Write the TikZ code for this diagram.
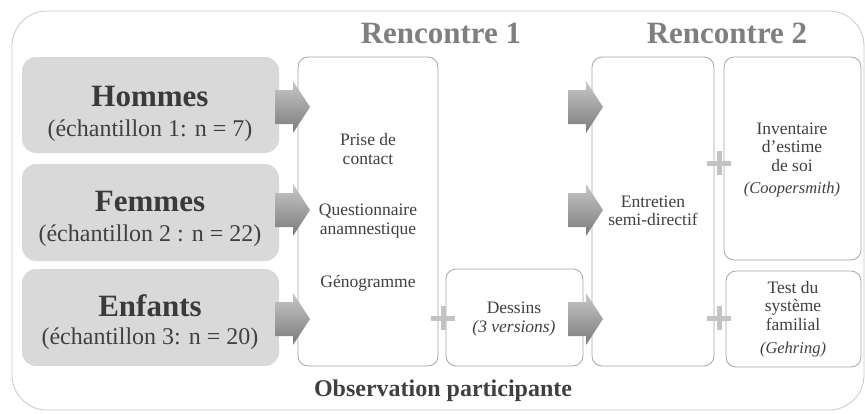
\documentclass[tikz,border=0pt]{standalone}
\usepackage{fontspec}
\setmainfont{Liberation Serif}
\definecolor{framec}{HTML}{C8C8C8}
\definecolor{boxc}{HTML}{A6A6A6}
\definecolor{greyfill}{HTML}{D9D9D9}
\definecolor{txt}{HTML}{404040}
\definecolor{titlec}{HTML}{3A3A3A}
\definecolor{headc}{HTML}{7F7F7F}
\definecolor{plusc}{HTML}{C3C3C3}
\definecolor{arrtop}{HTML}{C8C8C8}
\definecolor{arrbot}{HTML}{7A7A7A}
\newcommand{\myblockarrow}[4]{% name, x0, center y, tip x
  \path[shade, top color=arrtop, bottom color=arrbot]
    (#2,#3-17) -- (#4-17,#3-17) -- (#4-17,#3-26) -- (#4,#3) coordinate (#1)
    -- (#4-17,#3+26) -- (#4-17,#3+17) -- (#2,#3+17) -- cycle;}
\newcommand{\myplus}[3]{% name, x, y
  \coordinate (#1) at (#2,#3);
  \draw[plusc, line width=5pt] ([xshift=-12pt]#1) -- ([xshift=12pt]#1);
  \draw[plusc, line width=5pt] ([yshift=-12pt]#1) -- ([yshift=12pt]#1);}
\tikzset{
  grpbox/.style={fill=greyfill, draw=none, rounded corners=14pt},
  wbox/.style={fill=white, draw=boxc, line width=0.8pt, rounded corners=10pt},
  bigtitle/.style={text=titlec, font=\fontsize{31}{34}\selectfont\bfseries},
  subtitle/.style={text=txt, font=\fontsize{24}{27}\selectfont},
  head/.style={text=headc, font=\fontsize{31}{34}\selectfont\bfseries},
  body/.style={text=txt, align=center, font=\fontsize{17.5}{18.5}\selectfont},
  note/.style={text=txt, align=center, font=\fontsize{16.5}{18}\selectfont\itshape},
}
\begin{document}
\begin{tikzpicture}[x=1pt, y=-1pt]
\useasboundingbox (0,0) rectangle (865,413);
% outer frame
\draw[framec, line width=0.8pt, rounded corners=35pt] (12,11) rectangle (864,410);

% left group boxes
\path[grpbox] (22,57) rectangle (279,153);
\path[grpbox] (22,164) rectangle (279,261);
\path[grpbox] (22,269) rectangle (279,366);
\node[bigtitle] (hom) at (150,96) {Hommes};
\node[subtitle] (homs) at (150,131) {(échantillon 1: n = 7)};
\node[bigtitle] (fem) at (150,201) {Femmes};
\node[subtitle] (fems) at (150,236) {(échantillon 2 : n = 22)};
\node[bigtitle] (enf) at (150,306) {Enfants};
\node[subtitle] (enfs) at (150,339) {(échantillon 3: n = 20)};

% headings
\node[head] (r1) at (441,33) {Rencontre 1};
\node[head] (r2) at (727,33) {Rencontre 2};

% white boxes
\draw[wbox] (298,57) rectangle (438,366);
\draw[wbox] (446,269) rectangle (583,366);
\draw[wbox] (592,57) rectangle (714,366);
\draw[wbox] (724,57) rectangle (861,260);
\draw[wbox] (726,271) rectangle (861,367);

% arrows
\myblockarrow{a1}{275}{107}{310}
\myblockarrow{a2}{275}{210}{310}
\myblockarrow{a3}{275}{319}{310}
\myblockarrow{b1}{568}{107}{603}
\myblockarrow{b2}{568}{210}{603}
\myblockarrow{b3}{568}{319}{603}

% plus signs
\myplus{p1}{443}{318}
\myplus{p2}{719}{163}
\myplus{p3}{719}{318}

% texts in boxes
\node[body] (pc) at (368,149) {Prise de\\contact};
\node[body] (qa) at (368,221) {Questionnaire\\anamnestique};
\node[body] (gen) at (368,283) {Génogramme};
\node[body] (des) at (514,308) {Dessins};
\node[note, font=\fontsize{17.5}{18}\selectfont\itshape] (desv) at (514,328) {(3 versions)};
\node[body] (ent) at (653,211) {Entretien\\semi-directif};
\node[body] (inv) at (792,147) {Inventaire\\d’estime\\de soi};
\node[note] (coop) at (792,190) {(Coopersmith)};
\node[body] (tst) at (793,306) {Test du\\système\\familial};
\node[note] (geh) at (793,350) {(Gehring)};

% bottom label
\node[text=txt, font=\fontsize{24}{27}\selectfont\bfseries] (obs) at (443,391) {Observation participante};
\end{tikzpicture}
\end{document}
